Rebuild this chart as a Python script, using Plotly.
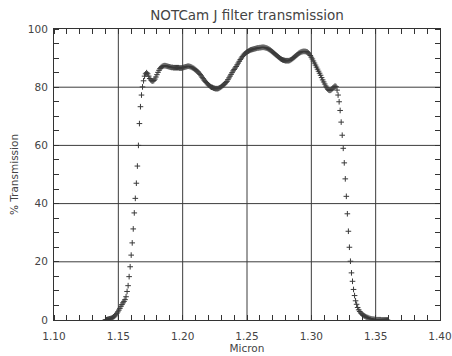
import numpy as np
import plotly.graph_objects as go

# Wavelength sampling of the filter scan (micron)
wave_start = 1.1400
wave_step = 0.0008

# Measured transmission (%) at each sample
transmission = [
    0.1, 0.1, 0.2, 0.3, 0.4, 0.5, 0.6, 0.8, 1.1, 1.4,
    1.8, 2.3, 2.8, 3.4, 4.0, 4.7, 5.3, 5.9, 6.4, 7.0,
    8.0, 9.8, 11.8, 14.9, 18.3, 22.3, 26.5, 31.3, 36.8, 41.8,
    47.0, 52.9, 60.0, 67.5, 73.3, 77.3, 80.1, 82.2, 83.8, 84.6,
    85.0, 84.6, 83.8, 83.0, 82.5, 82.2, 82.1, 82.3, 82.8, 83.5,
    84.3, 85.1, 85.8, 86.4, 86.8, 87.1, 87.3, 87.4, 87.4, 87.3,
    87.2, 87.1, 87.0, 86.9, 86.8, 86.8, 86.7, 86.7, 86.7, 86.7,
    86.7, 86.7, 86.6, 86.6, 86.6, 86.7, 86.8, 86.9, 87.0, 87.1,
    87.2, 87.2, 87.1, 87.0, 86.8, 86.6, 86.4, 86.1, 85.8, 85.5,
    85.2, 84.8, 84.4, 83.9, 83.4, 82.9, 82.4, 82.0, 81.6, 81.2,
    80.8, 80.5, 80.2, 80.0, 79.9, 79.7, 79.6, 79.5, 79.5, 79.5,
    79.6, 79.8, 80.0, 80.3, 80.6, 80.9, 81.2, 81.6, 82.0, 82.6,
    83.2, 83.8, 84.4, 85.0, 85.6, 86.1, 86.6, 87.1, 87.7, 88.3,
    88.9, 89.5, 90.0, 90.5, 91.0, 91.4, 91.7, 92.0, 92.2, 92.4,
    92.6, 92.8, 92.9, 93.0, 93.1, 93.2, 93.3, 93.4, 93.5, 93.5,
    93.6, 93.6, 93.7, 93.7, 93.7, 93.6, 93.5, 93.4, 93.2, 93.0,
    92.8, 92.5, 92.2, 91.9, 91.6, 91.3, 91.0, 90.7, 90.4, 90.1,
    89.8, 89.6, 89.4, 89.3, 89.2, 89.1, 89.1, 89.1, 89.1, 89.2,
    89.4, 89.6, 89.9, 90.2, 90.5, 90.8, 91.1, 91.4, 91.7, 91.9,
    92.1, 92.2, 92.3, 92.3, 92.3, 92.2, 92.1, 91.8, 91.4, 90.9,
    90.3, 89.7, 89.0, 88.3, 87.6, 86.9, 86.2, 85.5, 84.8, 84.1,
    83.3, 82.5, 81.8, 81.1, 80.4, 79.8, 79.3, 79.0, 78.9, 79.0,
    79.3, 79.7, 80.1, 80.4, 80.2, 79.0, 77.3, 75.0, 72.0, 68.0,
    63.5, 59.0, 54.0, 48.5, 42.5, 36.5, 30.5, 25.0, 20.2, 16.2,
    13.3, 10.5, 8.4, 6.6, 5.4, 4.3, 3.5, 2.9, 2.4, 2.1,
    1.8, 1.5, 1.3, 1.1, 0.9, 0.8, 0.6, 0.5, 0.4, 0.3,
    0.3, 0.2, 0.2, 0.1, 0.1, 0.1, 0.1, 0.1, 0.0, 0.0,
    0.0, 0.0, 0.0, 0.0, 0.0,
]

wavelength = np.round(wave_start + wave_step * np.arange(len(transmission)), 5)

# Axis ticks
x_ticks = [1.10, 1.15, 1.20, 1.25, 1.30, 1.35, 1.40]
y_ticks = [0, 20, 40, 60, 80, 100]
x_minor_step = 0.01
y_minor_step = 5

INK = "#3a3a3a"
TEXT = "#444444"
FRAME = "#333333"
GRID = "#3c3c3c"
FONT = "DejaVu Sans"

fig = go.Figure(
    go.Scatter(
        x=wavelength,
        y=transmission,
        mode="markers",
        marker=dict(symbol="cross-thin", size=4,
                    line=dict(width=1, color=INK), color=INK),
        hoverinfo="x+y",
    )
)

# Full-height / full-width grid lines at the interior major ticks
for xv in x_ticks[1:-1]:
    fig.add_shape(type="line", xref="x", yref="paper", x0=xv, x1=xv, y0=0, y1=1,
                  line=dict(color=GRID, width=1), layer="below")
for yv in y_ticks[1:-1]:
    fig.add_shape(type="line", xref="paper", yref="y", x0=0, x1=1, y0=yv, y1=yv,
                  line=dict(color=GRID, width=1), layer="below")

# Major ticks sit under the grid lines, so they are kept transparent and only
# serve to hold the labels a little away from the frame; the small inside
# marks come from the minor ticks.
fig.update_xaxes(
    range=[x_ticks[0], x_ticks[-1]],
    dtick=x_ticks[1] - x_ticks[0], tick0=x_ticks[0],
    tickformat=".2f",
    showline=True, linecolor=FRAME, mirror="ticks", showgrid=False,
    ticks="outside", ticklen=6, tickcolor="rgba(0,0,0,0)",
    minor=dict(ticks="inside", ticklen=5, dtick=x_minor_step, tickcolor=FRAME),
    tickfont=dict(family=FONT, size=10.5, color=TEXT),
    title=dict(text="Micron", font=dict(family=FONT, size=10.5, color=TEXT),
               standoff=3),
)
fig.update_yaxes(
    range=[y_ticks[0], y_ticks[-1]],
    dtick=y_ticks[1] - y_ticks[0], tick0=y_ticks[0],
    showline=True, linecolor=FRAME, mirror="ticks", showgrid=False,
    ticks="outside", ticklen=3, tickcolor="rgba(0,0,0,0)",
    minor=dict(ticks="inside", ticklen=5, dtick=y_minor_step, tickcolor=FRAME),
    tickfont=dict(family=FONT, size=10.5, color=TEXT),
    title=dict(text="% Transmission", font=dict(family=FONT, size=10.5, color=TEXT),
               standoff=7),
)

fig.update_layout(
    width=452, height=356,
    margin=dict(l=54, r=12, t=29, b=36, autoexpand=False),
    paper_bgcolor="white", plot_bgcolor="white",
    showlegend=False,
    title=dict(text="NOTCam J filter transmission", x=0.5, xanchor="center",
               xref="paper", y=1 - 15 / 356, yanchor="middle",
               font=dict(family=FONT, size=13.5, color=TEXT)),
)

fig.write_html("out.html")
